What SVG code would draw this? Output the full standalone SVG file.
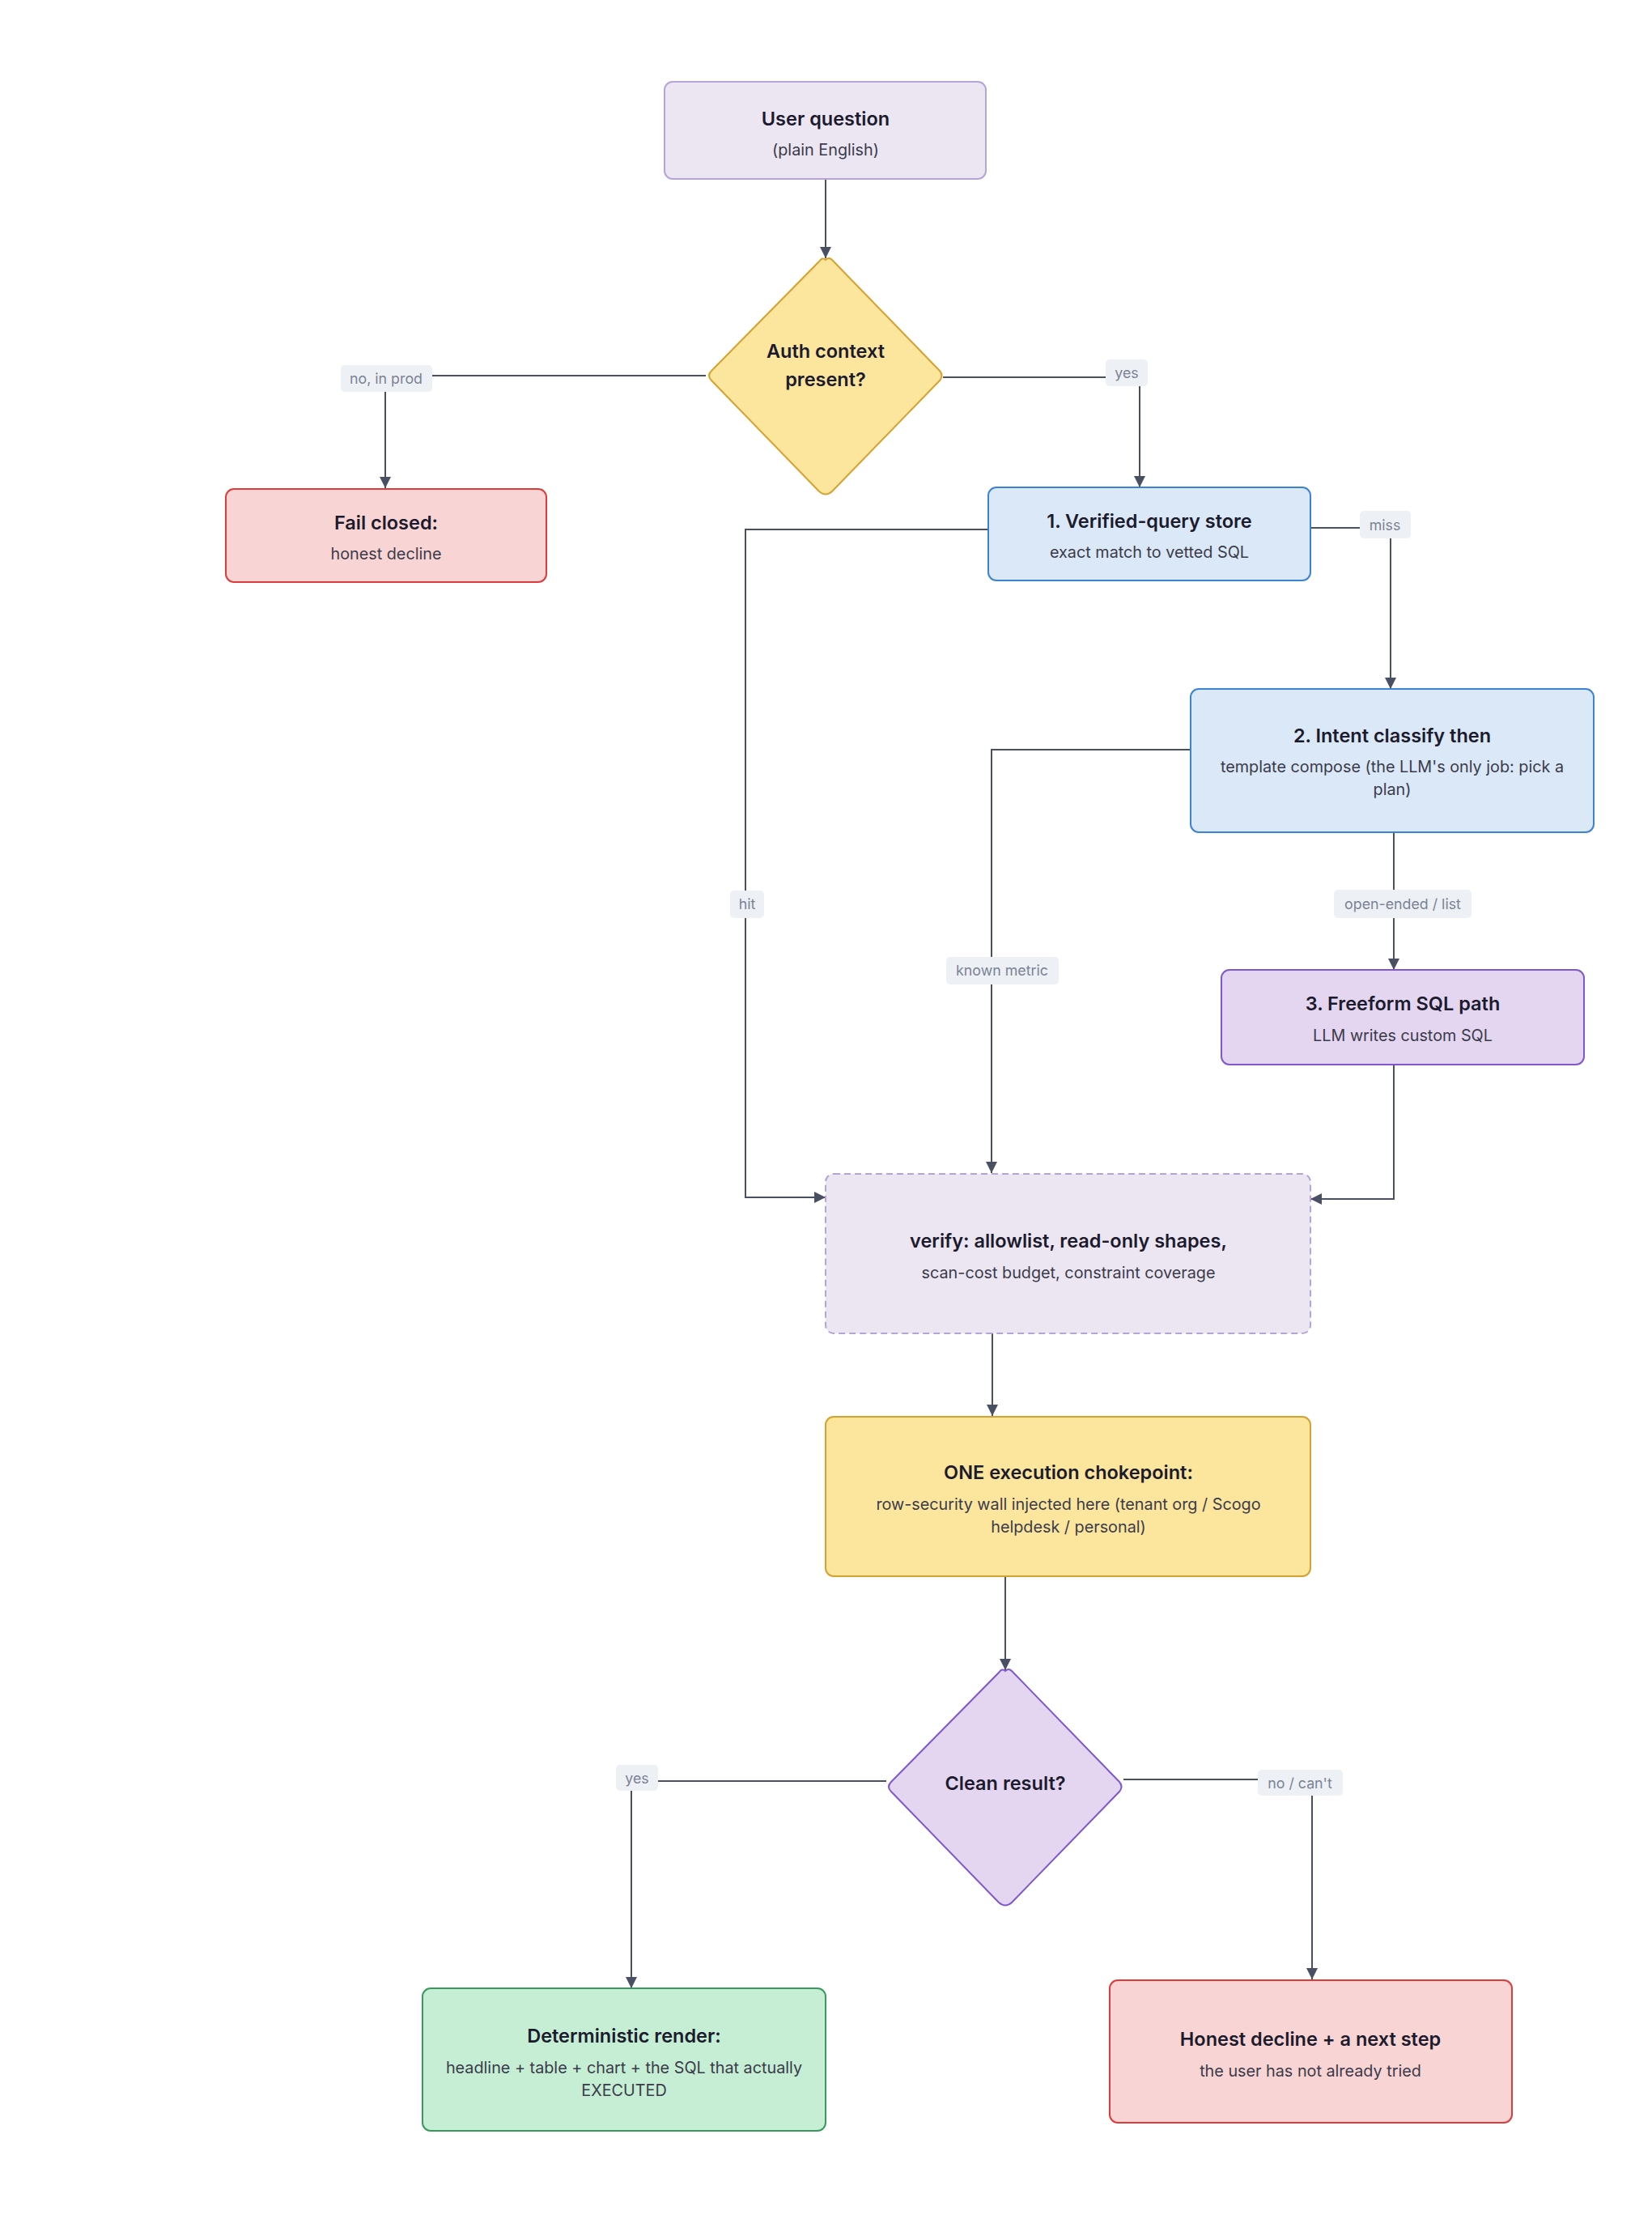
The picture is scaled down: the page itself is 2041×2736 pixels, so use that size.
<svg xmlns="http://www.w3.org/2000/svg" width="2041" height="2736" viewBox="0 0 2041 2736">
<defs>
<marker id="arr" markerUnits="userSpaceOnUse" markerWidth="14" markerHeight="14" viewBox="0 0 12 12" refX="12" refY="6" orient="auto">
<path d="M0,0 L12,6 L0,12 z" fill="#4a5063"/>
</marker>
<style>
.t{font-family:Inter,"Liberation Sans",sans-serif;font-weight:600;font-size:23.5px;fill:#1b1b2d;text-anchor:middle}
.s{font-family:Inter,"Liberation Sans",sans-serif;font-size:19.8px;fill:#3b3b4a;text-anchor:middle}
.lb{font-family:Inter,"Liberation Sans",sans-serif;font-size:17.8px;fill:#7b8295;text-anchor:middle}
.lr{fill:#edf1f6}
.c{fill:none;stroke:#4a5063;stroke-width:2}
.lav{fill:#ece6f3;stroke:#b4a5d6;stroke-width:2}
.yel{fill:#fce69e;stroke:#d6a12f;stroke-width:2}
.red{fill:#f8d4d4;stroke:#e03b3b;stroke-width:2}
.blu{fill:#dae8f7;stroke:#3b84d3;stroke-width:2}
.pur{fill:#e4d6f0;stroke:#7f58cb;stroke-width:2}
.grn{fill:#c5eed4;stroke:#3a9a5d;stroke-width:2}
</style>
</defs>
<rect width="2041" height="2736" fill="#ffffff"/>

<g id="connectors">
<path class="c" d="M1020,221 V319" marker-end="url(#arr)"/>
<path class="c" d="M872,464 H476 V603" marker-end="url(#arr)"/>
<path class="c" d="M1165,466 H1408 V602" marker-end="url(#arr)"/>
<path class="c" d="M1619,652 H1718 V851" marker-end="url(#arr)"/>
<path class="c" d="M1221,654 H921 V1479 H1020" marker-end="url(#arr)"/>
<path class="c" d="M1470,926 H1225 V1449" marker-end="url(#arr)"/>
<path class="c" d="M1722,1027 V1198" marker-end="url(#arr)"/>
<path class="c" d="M1722,1315 V1481 H1619" marker-end="url(#arr)"/>
<path class="c" d="M1226,1647 V1749" marker-end="url(#arr)"/>
<path class="c" d="M1242,1947 V2063" marker-end="url(#arr)"/>
<path class="c" d="M1095,2200 H780 V2456" marker-end="url(#arr)"/>
<path class="c" d="M1388,2198 H1621 V2445" marker-end="url(#arr)"/>
<g id="labels">
<rect class="lr" x="421" y="451" width="113" height="33" rx="5"/><text class="lb" x="477" y="474">no, in prod</text>
<rect class="lr" x="1366" y="444" width="52" height="33" rx="5"/><text class="lb" x="1392" y="467">yes</text>
<rect class="lr" x="1680" y="631" width="63" height="34" rx="5"/><text class="lb" x="1711" y="655">miss</text>
<rect class="lr" x="902" y="1100" width="42" height="34" rx="5"/><text class="lb" x="923" y="1123">hit</text>
<rect class="lr" x="1169" y="1182" width="139" height="34" rx="5"/><text class="lb" x="1238" y="1205">known metric</text>
<rect class="lr" x="1648" y="1099" width="170" height="35" rx="5"/><text class="lb" x="1733" y="1123">open-ended / list</text>
<rect class="lr" x="761" y="2180" width="52" height="32" rx="5"/><text class="lb" x="787" y="2203">yes</text>
<rect class="lr" x="1554" y="2186" width="105" height="32" rx="5"/><text class="lb" x="1606" y="2209">no / can't</text>
</g>
</g>

<g id="user_question">
<rect class="lav" x="821" y="101" width="397" height="120" rx="10"/>
<text class="t" x="1020" y="155">User question</text>
<text class="s" x="1020" y="192">(plain English)</text>
</g>

<g id="auth_context">
<path class="yel" d="M1020,321 Q1024,317 1028,321 L1161,458 Q1166,464 1161,470 L1028,607 Q1020,614 1012,607 L879,470 Q873,464 879,458 L1012,323 Q1016,317 1020,321 z"/>
<text class="t" x="1020" y="442">Auth context</text>
<text class="t" x="1020" y="477">present?</text>
</g>

<g id="fail_closed">
<rect class="red" x="279" y="604" width="396" height="115" rx="10"/>
<text class="t" x="477" y="654">Fail closed:</text>
<text class="s" x="477" y="691">honest decline</text>
</g>

<g id="verified_store">
<rect class="blu" x="1221" y="602" width="398" height="115" rx="10"/>
<text class="t" x="1420" y="652">1. Verified-query store</text>
<text class="s" x="1420" y="689">exact match to vetted SQL</text>
</g>

<g id="intent_classify">
<rect class="blu" x="1471" y="851" width="498" height="177" rx="10"/>
<text class="t" x="1720" y="917">2. Intent classify then</text>
<text class="s" x="1720" y="954">template compose (the LLM's only job: pick a</text>
<text class="s" x="1720" y="982">plan)</text>
</g>

<g id="freeform_sql">
<rect class="pur" x="1509" y="1198" width="448" height="117" rx="10"/>
<text class="t" x="1733" y="1248">3. Freeform SQL path</text>
<text class="s" x="1733" y="1286">LLM writes custom SQL</text>
</g>

<g id="verify">
<rect class="lav" x="1020" y="1450" width="599" height="197" rx="10" stroke-dasharray="8,5"/>
<text class="t" x="1320" y="1541">verify: allowlist, read-only shapes,</text>
<text class="s" x="1320" y="1579">scan-cost budget, constraint coverage</text>
</g>

<g id="execution_chokepoint">
<rect class="yel" x="1020" y="1750" width="599" height="197" rx="10"/>
<text class="t" x="1320" y="1827">ONE execution chokepoint:</text>
<text class="s" x="1320" y="1865">row-security wall injected here (tenant org / Scogo</text>
<text class="s" x="1320" y="1893">helpdesk / personal)</text>
</g>

<g id="clean_result">
<path class="pur" d="M1242,2064 Q1246,2060 1250,2064 L1383,2201 Q1388,2207 1383,2213 L1250,2350 Q1242,2357 1234,2350 L1101,2213 Q1095,2207 1101,2201 L1234,2066 Q1238,2060 1242,2064 z"/>
<text class="t" x="1242" y="2211">Clean result?</text>
</g>

<g id="deterministic_render">
<rect class="grn" x="522" y="2456" width="498" height="176" rx="10"/>
<text class="t" x="771" y="2523">Deterministic render:</text>
<text class="s" x="771" y="2561">headline + table + chart + the SQL that actually</text>
<text class="s" x="771" y="2589">EXECUTED</text>
</g>

<g id="honest_decline">
<rect class="red" x="1371" y="2446" width="497" height="176" rx="10"/>
<text class="t" x="1619" y="2527">Honest decline + a next step</text>
<text class="s" x="1619" y="2565">the user has not already tried</text>
</g>
</svg>
